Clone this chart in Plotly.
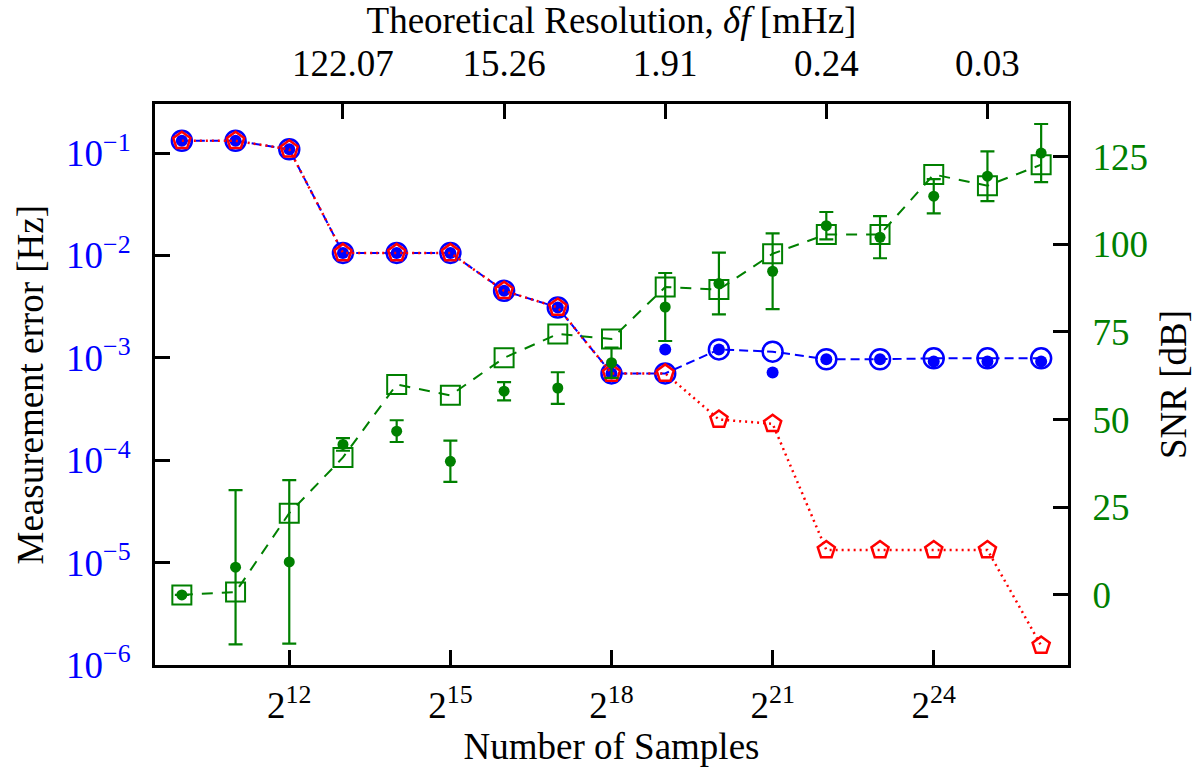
import math
import plotly.graph_objects as go

# ---------------- data ----------------
samples = [1024, 2048, 4096, 8192, 16384, 32768, 65536, 131072, 262144,
           524288, 1048576, 2097152, 4194304, 8388608, 16777216, 33554432, 67108864]

err_circle = [0.132, 0.132, 0.109, 0.0106, 0.0106, 0.0106, 0.00452, 0.00311, 7.05e-4,
              7.05e-4, 1.21e-3, 1.15e-3, 9.7e-4, 9.7e-4, 9.9e-4, 9.9e-4, 9.9e-4]
err_dot = [0.132, 0.132, 0.109, 0.0106, 0.0106, 0.0106, 0.00452, 0.00311, 7.05e-4,
           1.21e-3, 1.21e-3, 7.2e-4, 9.7e-4, 9.7e-4, 9.2e-4, 9.2e-4, 9.2e-4]
err_pent = [0.132, 0.132, 0.109, 0.0106, 0.0106, 0.0106, 0.00452, 0.00311, 7.05e-4,
            7.05e-4, 2.5e-4, 2.27e-4, 1.33e-5, 1.33e-5, 1.33e-5, 1.33e-5, 1.55e-6]

snr_sq = [0.0, 0.8, 23.3, 39.2, 60.0, 56.9, 67.6, 74.4, 73.0, 87.8, 87.1, 97.3,
          102.8, 102.8, 119.9, 116.7, 122.7]
snr_dot = [0.0, 7.9, 9.4, 42.9, 46.7, 38.1, 58.1, 59.0, 66.2, 82.1, 88.8, 92.3,
           105.3, 102.0, 113.7, 119.4, 126.0]
snr_err = [0.0, 22.0, 23.3, 1.8, 3.1, 5.9, 2.6, 4.5, 4.3, 9.7, 8.8, 10.8,
           3.9, 6.0, 4.9, 7.1, 8.3]

x_tickvals = [4096, 32768, 262144, 2097152, 16777216]
x_ticktext = ["2<sup>12</sup>", "2<sup>15</sup>", "2<sup>18</sup>", "2<sup>21</sup>", "2<sup>24</sup>"]
top_tickvals = [8192, 65536, 524288, 4194304, 33554432]
top_ticktext = ["122.07", "15.26", "1.91", "0.24", "0.03"]
y_tickvals = [1e-6, 1e-5, 1e-4, 1e-3, 1e-2, 1e-1]
y_ticktext = ["10<sup>−6</sup>", "10<sup>−5</sup>", "10<sup>−4</sup>",
              "10<sup>−3</sup>", "10<sup>−2</sup>", "10<sup>−1</sup>"]
snr_tickvals = [0, 25, 50, 75, 100, 125]

# ---------------- style ----------------
FONT = "Liberation Serif"
BLUE = "#0000ff"
RED = "#ff0000"
GREEN = "#008000"
TICK_SIZE = 37
TITLE_SIZE = 37
ML, MR, MT, MB = 155, 127, 104, 105
W, H = 1195, 770

fig = go.Figure()

# invisible trace so that the top (resolution) axis is drawn
fig.add_trace(go.Scatter(
    x=samples, y=err_circle, mode="markers", marker=dict(opacity=0),
    hoverinfo="skip", xaxis="x2", yaxis="y", showlegend=False))

fig.add_trace(go.Scatter(
    x=samples, y=err_circle, mode="lines+markers",
    line=dict(color=BLUE, width=2, dash="9px,5px"),
    marker=dict(symbol="circle-open", size=20, color=BLUE, line=dict(width=2.5, color=BLUE)),
    xaxis="x", yaxis="y", showlegend=False))

fig.add_trace(go.Scatter(
    x=samples, y=err_dot, mode="markers",
    marker=dict(symbol="circle", size=12, color=BLUE),
    xaxis="x", yaxis="y", showlegend=False))

fig.add_trace(go.Scatter(
    x=samples, y=err_pent, mode="lines+markers",
    line=dict(color=RED, width=2.5, dash="2px,4px"),
    marker=dict(symbol="pentagon-open", size=18, color=RED, line=dict(width=2.5, color=RED)),
    xaxis="x", yaxis="y", showlegend=False))

fig.add_trace(go.Scatter(
    x=samples, y=snr_sq, mode="lines+markers",
    line=dict(color=GREEN, width=2, dash="11px,9px"),
    marker=dict(symbol="square-open", size=19, color=GREEN, line=dict(width=2, color=GREEN)),
    xaxis="x", yaxis="y2", showlegend=False))

fig.add_trace(go.Scatter(
    x=samples, y=snr_dot, mode="markers",
    marker=dict(symbol="circle", size=11, color=GREEN),
    error_y=dict(type="data", array=snr_err, visible=True, color=GREEN, thickness=2.2, width=7),
    xaxis="x", yaxis="y2", showlegend=False))

xr = [math.log10(2 ** 9.5), math.log10(2 ** 26.5)]

axis_common = dict(showline=True, linecolor="black", linewidth=3, ticks="inside",
                   ticklen=15, tickwidth=3, tickcolor="black", showgrid=False,
                   zeroline=False, automargin=False)

plot_w = W - ML - MR

fig.update_layout(
    width=W, height=H,
    paper_bgcolor="white", plot_bgcolor="white",
    margin=dict(l=ML, r=MR, t=MT, b=MB),
    font=dict(family=FONT, size=TICK_SIZE, color="black"),
    xaxis=dict(type="log", range=xr, tickmode="array", tickvals=x_tickvals, ticktext=x_ticktext,
               side="bottom", anchor="y", ticklabelstandoff=6,
               title=dict(text="Number of Samples", font=dict(size=TITLE_SIZE, family=FONT), standoff=8),
               tickfont=dict(size=TICK_SIZE, family=FONT, color="black"), **axis_common),
    xaxis2=dict(type="log", range=xr, tickmode="array", tickvals=top_tickvals, ticktext=top_ticktext,
                side="top", overlaying="x", anchor="y", ticklabelstandoff=10,
                title=dict(text="Theoretical Resolution, <i>δf</i> [mHz]", font=dict(size=TITLE_SIZE, family=FONT), standoff=6),
                tickfont=dict(size=TICK_SIZE, family=FONT, color="black"), **axis_common),
    yaxis=dict(type="log", range=[-6, -0.52], tickmode="array", tickvals=y_tickvals, ticktext=y_ticktext,
               side="left", anchor="x", ticklabelstandoff=14,
               tickfont=dict(size=TICK_SIZE, family=FONT, color=BLUE), **axis_common),
    yaxis2=dict(range=[-20, 140], tickmode="array", tickvals=snr_tickvals,
                side="right", overlaying="y", anchor="x", ticklabelstandoff=14,
                title=dict(text="SNR [dB]", font=dict(size=TITLE_SIZE, family=FONT), standoff=14),
                tickfont=dict(size=TICK_SIZE, family=FONT, color=GREEN), **axis_common),
    annotations=[dict(
        text="Measurement error [Hz]", textangle=-90, showarrow=False,
        xref="paper", yref="paper", x=(30 - ML) / plot_w, y=0.5,
        xanchor="center", yanchor="middle",
        font=dict(size=TITLE_SIZE, family=FONT, color="black"))],
)

fig.write_html("out.html")
